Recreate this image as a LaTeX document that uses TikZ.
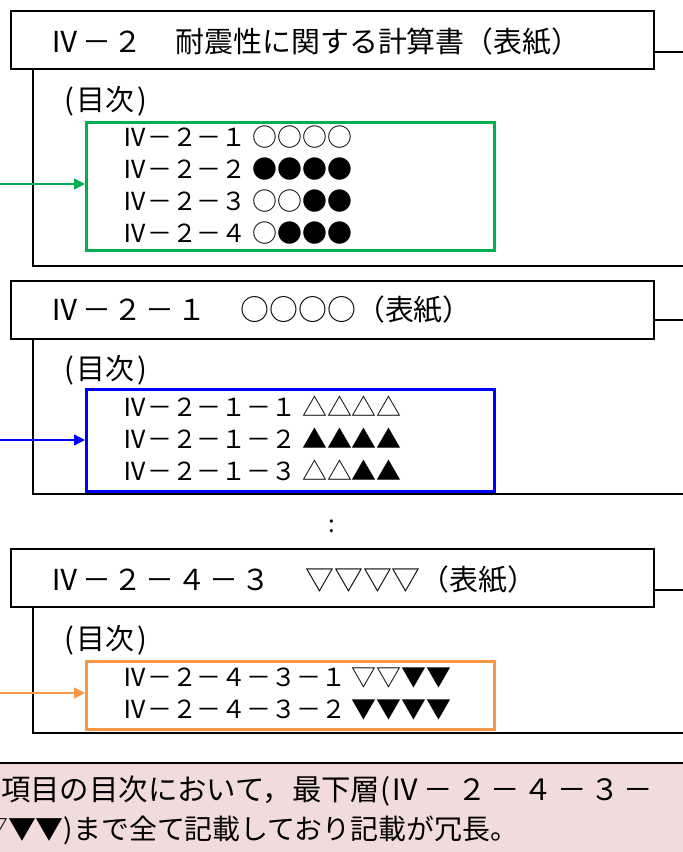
\documentclass[tikz,border=0pt]{standalone}
\usepackage{fontspec}
\setmainfont{Noto Sans CJK JP}
\usetikzlibrary{arrows.meta}
\definecolor{tocgreen}{HTML}{00B050}
\definecolor{tocblue}{HTML}{0000FF}
\definecolor{tocorange}{HTML}{F79646}
\definecolor{notepink}{HTML}{F2DCDB}
\newcommand{\dsh}{\hspace{3bp}－\hspace{3bp}}
\begin{document}
\begin{tikzpicture}[x=1bp,y=-1bp,
  hdrbox/.style={draw, line width=2.2bp, minimum width=643bp, minimum height=58bp, anchor=north west, inner sep=0pt},
  hdrtext/.style={anchor=west, inner sep=0pt, font=\fontsize{29}{32}\selectfont},
  frameline/.style={line width=2.2bp},
  tocbox/.style={draw, line width=2.6bp, minimum width=408bp, anchor=north west, inner sep=0pt},
  toclabel/.style={anchor=west, inner sep=0pt, font=\fontsize{29}{32}\selectfont},
  tocitems/.style={anchor=west, inner sep=0pt, align=left, font=\fontsize{25}{32}\selectfont},
  arr/.style={line width=1.5bp, -{Triangle[length=11bp,width=11bp]}},
  notetext/.style={inner sep=0pt}
]
\useasboundingbox (0,0) rectangle (683,852);

% ---- block 1
\node[hdrbox] (h1) at (10,10) {};
\node[hdrtext] (h1t) at (50,42) {Ⅳ\dsh ２　\hspace{4bp}耐震性に関する計算書（表紙）};
\coordinate (h1r) at (683,52);
\draw[frameline] (h1.east |- h1r) -- (h1r);
\coordinate (f1) at (683,266);
\draw[frameline] ([xshift=23bp]h1.south west) |- (f1);
\node[toclabel] (l1) at (64,101) {(\hspace{3bp}目次\hspace{3bp})};
\node[tocbox, draw=tocgreen, minimum height=128bp] (g) at (85,121) {};
\node[tocitems] (gt) at (122,185) {Ⅳ－２－１ ○○○○\\Ⅳ－２－２ ●●●●\\Ⅳ－２－３ ○○●●\\Ⅳ－２－４ ○●●●};
\coordinate (a1) at (0,184);
\draw[arr, tocgreen] (a1) -- (g.west |- a1);

% ---- block 2
\node[hdrbox] (h2) at (10,280) {};
\node[hdrtext] (h2t) at (50,310) {Ⅳ\dsh ２\dsh １　\hspace{5bp}○○○○（表紙）};
\coordinate (h2r) at (683,320);
\draw[frameline] (h2.east |- h2r) -- (h2r);
\coordinate (f2) at (683,494);
\draw[frameline] ([xshift=23bp]h2.south west) |- (f2);
\node[toclabel] (l2) at (64,370) {(\hspace{3bp}目次\hspace{3bp})};
\node[tocbox, draw=tocblue, minimum height=102bp] (b) at (85,388) {};
\node[tocitems] (bt) at (122,438) {Ⅳ－２－１－１ △△△△\\Ⅳ－２－１－２ ▲▲▲▲\\Ⅳ－２－１－３ △△▲▲};
\coordinate (a2) at (0,440);
\draw[arr, tocblue] (a2) -- (b.west |- a2);

% ---- dots
\node[inner sep=0pt, font=\fontsize{24}{24}\selectfont] (dots) at (332,526) {:};

% ---- block 3
\node[hdrbox] (h3) at (10,548) {};
\node[hdrtext] (h3t) at (50,580) {Ⅳ\dsh ２\dsh ４\dsh ３　\hspace{6bp}▽▽▽▽（表紙）};
\coordinate (h3r) at (683,590);
\draw[frameline] (h3.east |- h3r) -- (h3r);
\coordinate (f3) at (683,733);
\draw[frameline] ([xshift=23bp]h3.south west) |- (f3);
\node[toclabel] (l3) at (64,640) {(\hspace{3bp}目次\hspace{3bp})};
\node[tocbox, draw=tocorange, minimum height=68bp] (o) at (85,660) {};
\node[tocitems] (ot) at (122,694) {Ⅳ－２－４－３－１ ▽▽▼▼\\Ⅳ－２－４－３－２ ▼▼▼▼};
\coordinate (a3) at (0,693);
\draw[arr, tocorange] (a3) -- (o.west |- a3);

% ---- note
\node[fill=notepink, minimum width=683bp, minimum height=90bp, anchor=north west, inner sep=0pt] (note) at (0,763) {};
\draw[line width=2.2bp] (note.north west) -- (note.north east);
\begin{scope}
\clip (0,764) rectangle (683,852);
\node[notetext, anchor=west, font=\fontsize{29.5}{32}\selectfont] (n1) at (1,791) {項目の目次において，最下層(Ⅳ\hspace{4bp}－\hspace{4bp}２\hspace{4bp}－\hspace{4bp}４\hspace{4bp}－\hspace{4bp}３\hspace{4bp}－};
\node[notetext, anchor=west, font=\fontsize{28}{32}\selectfont] (n2) at (-20,830) {▽▼▼)まで全て記載しており記載が冗長。};
\end{scope}
\end{tikzpicture}
\end{document}
